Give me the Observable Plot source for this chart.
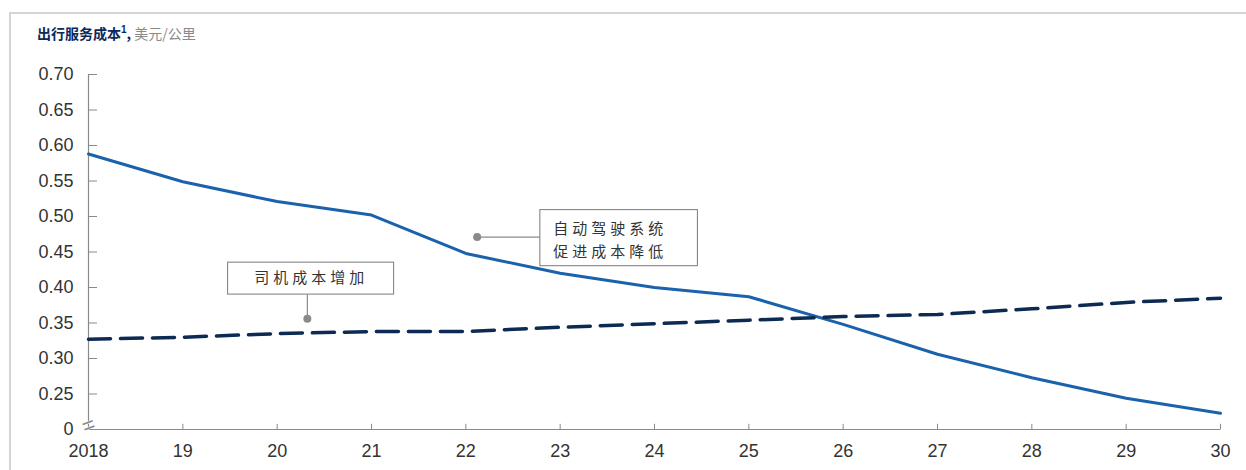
<!DOCTYPE html>
<html>
<head>
<meta charset="utf-8">
<script src="https://cdn.jsdelivr.net/npm/d3@7"></script>
<script src="https://cdn.jsdelivr.net/npm/@observablehq/plot@0.6"></script>
<style>
  html, body { margin: 0; padding: 0; background: #fff; width: 1246px; height: 470px; overflow: hidden; }
  #frame { position: absolute; left: 9px; top: 12px; right: 0; bottom: 0; border-left: 2px solid #d4d4d4; border-top: 2px solid #d4d4d4; }
  #sub { position: absolute; left: 37px; top: 23px; font-family: "Noto Sans CJK SC", sans-serif; font-size: 14px; color: #0b2a5a; font-weight: 700; white-space: nowrap; }
  #sub sup { font-size: 10px; font-family: "Liberation Sans", Arial, sans-serif; }
  #sub .unit { color: #8a8a8a; font-weight: 400; }
  #chart { position: absolute; left: 0; top: 50px; }
</style>
</head>
<body>
<div id="frame"></div>
<div id="sub">出行服务成本<sup>1</sup>, <span class="unit">美元/公里</span></div>
<div id="chart"></div>
<script>
const years = [2018, 2019, 2020, 2021, 2022, 2023, 2024, 2025, 2026, 2027, 2028, 2029, 2030];
const autonomousCost = [0.588, 0.549, 0.521, 0.502, 0.448, 0.420, 0.400, 0.387, 0.348, 0.306, 0.273, 0.244, 0.223];
const driverCost = [0.327, 0.330, 0.335, 0.338, 0.338, 0.344, 0.349, 0.354, 0.359, 0.362, 0.370, 0.379, 0.385];
const yTicks = [0.20, 0.25, 0.30, 0.35, 0.40, 0.45, 0.50, 0.55, 0.60, 0.65, 0.70];
const yTickLabels = ["0", "0.25", "0.30", "0.35", "0.40", "0.45", "0.50", "0.55", "0.60", "0.65", "0.70"];
const xTickLabels = ["2018", "19", "20", "21", "22", "23", "24", "25", "26", "27", "28", "29", "30"];

// annotations (data coordinates)
const annotDriverText = "司机成本增加";
const annotDriverBox = {x1: 2019.48, x2: 2021.24, y1: 0.390, y2: 0.435};
const annotDriverDot = {x: 2020.32, y: 0.356};
const annotAutoText = "自动驾驶系统\n促进成本降低";
const annotAutoBox = {x1: 2022.79, x2: 2024.46, y1: 0.430, y2: 0.509};
const annotAutoDot = {x: 2022.12, y: 0.471};

const autoData = years.map((y, i) => ({year: y, value: autonomousCost[i]}));
const driverData = years.map((y, i) => ({year: y, value: driverCost[i]}));
const yLab = new Map(yTicks.map((t, i) => [t, yTickLabels[i]]));
const xLab = new Map(years.map((t, i) => [t, xTickLabels[i]]));

const gray = "#8a8a8a";
const chart = Plot.plot({
  width: 1246,
  height: 420,
  marginLeft: 88,
  marginRight: 26,
  marginTop: 24,
  marginBottom: 41,
  style: {fontFamily: "'Liberation Sans', Arial, sans-serif", fontSize: "18px", color: "#333", background: "transparent"},
  x: {domain: [2018, 2030]},
  y: {domain: [0.20, 0.70]},
  marks: [
    Plot.axisX({ticks: years, tickSize: 0, tickPadding: 15, tickFormat: d => xLab.get(d), fontSize: 18, fill: "#333"}),
    Plot.axisY({ticks: yTicks, tickSize: 0, tickPadding: 15, tickFormat: d => yLab.get(+d.toFixed(2)), fontSize: 18, fill: "#333"}),
    Plot.ruleX([2018], {y1: 0.20, y2: 0.70, stroke: gray, strokeWidth: 1.2}),
    Plot.ruleY([0.20], {x1: 2018, x2: 2030, stroke: gray, strokeWidth: 1.2}),
    Plot.link(yTicks.slice(1), {x1: 2018, x2: 2018.09, y1: d => d, y2: d => d, stroke: gray, strokeWidth: 1}),
    Plot.link(years.slice(1), {x1: d => d, x2: d => d, y1: 0.20, y2: 0.208, stroke: gray, strokeWidth: 1}),
    Plot.text([0.20], {x: 2018, y: d => d, text: ["="], rotate: -20, fontSize: 22, fill: gray, dx: 0, dy: -4, stroke: "white", strokeWidth: 1}),
    Plot.line(autoData, {x: "year", y: "value", stroke: "#1a62ac", strokeWidth: 3, curve: "linear"}),
    Plot.line(driverData, {x: "year", y: "value", stroke: "#0c2a52", strokeWidth: 3.5, strokeDasharray: "22,10"}),
    // annotation: driver
    Plot.link([annotDriverDot], {x1: "x", y1: "y", x2: "x", y2: annotDriverBox.y1, stroke: gray, strokeWidth: 1.2}),
    Plot.rect([annotDriverBox], {x1: "x1", x2: "x2", y1: "y1", y2: "y2", fill: "white", stroke: "#7a7a7a", strokeWidth: 1}),
    Plot.text([annotDriverText], {x: (annotDriverBox.x1 + annotDriverBox.x2) / 2, y: (annotDriverBox.y1 + annotDriverBox.y2) / 2, text: d => d, fontSize: 15, fill: "#333", fontFamily: "'Noto Sans CJK SC', sans-serif", className: "annot"}),
    Plot.dot([annotDriverDot], {x: "x", y: "y", r: 4, fill: gray}),
    // annotation: autonomous
    Plot.link([annotAutoDot], {x1: "x", y1: "y", x2: annotAutoBox.x1, y2: "y", stroke: gray, strokeWidth: 1.2}),
    Plot.rect([annotAutoBox], {x1: "x1", x2: "x2", y1: "y1", y2: "y2", fill: "white", stroke: "#7a7a7a", strokeWidth: 1}),
    Plot.text([annotAutoText], {x: annotAutoBox.x1, y: (annotAutoBox.y1 + annotAutoBox.y2) / 2, text: d => d, textAnchor: "start", dx: 13, lineHeight: 1.55, fontSize: 15, fill: "#333", fontFamily: "'Noto Sans CJK SC', sans-serif", className: "annot"}),
    Plot.dot([annotAutoDot], {x: "x", y: "y", r: 4, fill: gray})
  ]
});
d3.select(chart).selectAll(".annot text").style("letter-spacing", "4px");
document.getElementById("chart").appendChild(chart);
</script>
</body>
</html>
